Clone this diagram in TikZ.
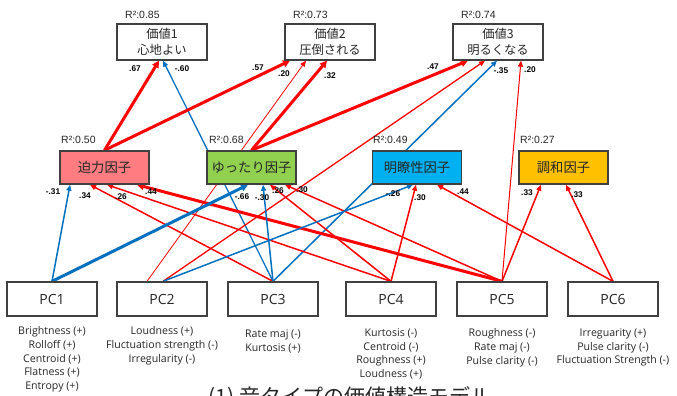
\documentclass[tikz,border=0pt]{standalone}
\usepackage{fontspec}
\usetikzlibrary{arrows.meta,calc}
\newfontfamily\jpfont{Noto Sans CJK JP}
\newfontfamily\latfont{Open Sans}
\newfontfamily\arfont{Liberation Sans}
\definecolor{pathred}{HTML}{FF0000}
\definecolor{pathblue}{HTML}{0070C0}
\definecolor{boxline}{HTML}{404040}
\definecolor{txt}{HTML}{262626}
\definecolor{fpower}{HTML}{FF7C80}
\definecolor{frelax}{HTML}{92D050}
\definecolor{fclear}{HTML}{00B0F0}
\definecolor{fharm}{HTML}{FFC000}
\pgfdeclarelayer{links}
\pgfsetlayers{links,main}
\tikzset{
  valbox/.style={draw=boxline, line width=1.3pt, fill=white, minimum width=90pt,
    minimum height=36pt, inner sep=0pt, align=center, text=txt,
    font=\jpfont\fontsize{12.3}{16}\selectfont},
  facbox/.style={draw=boxline, line width=1.5pt, minimum width=89pt,
    minimum height=33pt, inner sep=0pt, text=txt,
    font=\jpfont\fontsize{13.3}{15}\selectfont},
  pcbox/.style={draw=boxline, line width=1.3pt, fill=white, minimum width=90pt,
    minimum height=34pt, inner sep=0pt, text=txt,
    font=\latfont\fontsize{14}{15}\selectfont},
  desc/.style={anchor=north, align=center, inner sep=0pt, text=txt,
    font=\latfont\fontsize{10.6}{13.7}\selectfont},
  rsq/.style={anchor=west, inner sep=0pt, text=txt,
    font=\arfont\fontsize{10.5}{12}\selectfont},
  coef/.style={inner sep=0pt, text=black,
    font=\arfont\bfseries\fontsize{8.3}{9}\selectfont},
  link/.style={-{Triangle[length=6pt,width=5pt]}, line width=1.5pt},
  poslink/.style={link, draw=pathred},
  neglink/.style={link, draw=pathblue},
  heavy/.style={line width=3pt, -{Triangle[length=7pt,width=7pt]}},
  light/.style={line width=0.8pt},
}
\begin{document}
\begin{tikzpicture}[x=1pt,y=-1pt]
\useasboundingbox (0,0) rectangle (677,396);

% value boxes
\node[valbox] (v1) at (162,42) {価値1\\心地よい};
\node[valbox] (v2) at (330,42) {価値2\\圧倒される};
\node[valbox] (v3) at (498,42) {価値3\\明るくなる};

% factor boxes
\node[facbox, fill=fpower] (f1) at (104.5,167.5) {迫力因子};
\node[facbox, fill=frelax] (f2) at (251.5,167.5) {ゆったり因子};
\node[facbox, fill=fclear] (f3) at (417,167.5) {明瞭性因子};
\node[facbox, fill=fharm]  (f4) at (563.5,167.5) {調和因子};

% principal components
\node[pcbox] (p1) at (52,299) {PC1};
\node[pcbox] (p2) at (162,299) {PC2};
\node[pcbox] (p3) at (273,299) {PC3};
\node[pcbox] (p4) at (391,299) {PC4};
\node[pcbox] (p5) at (502,299) {PC5};
\node[pcbox] (p6) at (613,299) {PC6};

% descriptors under each component
\node[desc] (d1) at (52,326.5) {Brightness (+)\\Rolloff (+)\\Centroid (+)\\Flatness (+)\\Entropy (+)};
\node[desc] (d2) at (162,326.5) {Loudness (+)\\Fluctuation strength (-)\\Irregularity (-)};
\node[desc] (d3) at (273,329.5) {Rate maj (-)\\Kurtosis (+)};
\node[desc] (d4) at (391,328.5) {Kurtosis (-)\\Centroid (-)\\Roughness (+)\\Loudness (+)};
\node[desc] (d5) at (502,328.5) {Roughness (-)\\Rate maj (-)\\Pulse clarity (-)};
\node[desc] (d6) at (613,328.5) {Irreguarity (+)\\Pulse clarity (-)\\Fluctuation Strength (-)};

% explained variance
\node[rsq] (r1) at (125,15) {R²:0.85};
\node[rsq] (r2) at (293,15) {R²:0.73};
\node[rsq] (r3) at (461,15) {R²:0.74};
\node[rsq] (r4) at (61,140) {R²:0.50};
\node[rsq] (r5) at (209,140) {R²:0.68};
\node[rsq] (r6) at (373,140) {R²:0.49};
\node[rsq] (r7) at (520,140) {R²:0.27};

% path coefficients
\node[coef] (c1)  at (135,69) {.67};
\node[coef] (c2)  at (182,69) {-.60};
\node[coef] (c3)  at (258,68) {.57};
\node[coef] (c4)  at (284,74) {.20};
\node[coef] (c5)  at (330,76) {.32};
\node[coef] (c6)  at (433,67) {.47};
\node[coef] (c7)  at (501,71) {-.35};
\node[coef] (c8)  at (530,70) {.20};
\node[coef] (c9)  at (53,192) {-.31};
\node[coef] (c10) at (85,196) {.34};
\node[coef] (c11) at (121,197) {.26};
\node[coef] (c12) at (151,192) {.44};
\node[coef] (c13) at (242,197) {-.66};
\node[coef] (c14) at (262,198) {-.30};
\node[coef] (c15) at (278,191) {.26};
\node[coef] (c16) at (302,190) {.30};
\node[coef] (c17) at (393,194) {-.26};
\node[coef] (c18) at (420,198) {.30};
\node[coef] (c19) at (463,192) {.44};
\node[coef] (c20) at (527,193) {.33};
\node[coef] (c21) at (577,195) {.33};

% caption along the lower edge
\node[anchor=base, inner sep=0pt, text=txt, font=\jpfont\fontsize{21}{24}\selectfont]
  (cap) at (350,404) {(1) 音タイプの価値構造モデル};

\begin{pgfonlayer}{links}
  % factors and components to values
  \draw[poslink,heavy] (f1.north) -- ([xshift=-3pt]v1.south);
  \draw[neglink,line width=1.3pt] (p3.north) -- ([xshift=1pt]v1.south);
  \draw[poslink,heavy] (f1.north) -- ([xshift=-40pt]v2.south);
  \draw[poslink,light] ([xshift=-15pt]p2.north) -- ([xshift=-24pt]v2.south);
  \draw[poslink,heavy] (f2.north) -- ([xshift=-3pt]v2.south);
  \draw[poslink,heavy] (f2.north) -- ([xshift=-30pt]v3.south);
  \draw[poslink,line width=1.3pt] ([xshift=1pt]p2.north) -- ([xshift=-13pt]v3.south);
  \draw[neglink] (p3.north) -- ([xshift=-1pt]v3.south);
  \draw[poslink,line width=1pt] (p5.north) -- ([xshift=23pt]v3.south);
  % components to factors
  \draw[neglink] (p1.north) -- ([xshift=-34.5pt]f1.south);
  \draw[poslink] (p3.north) -- ([xshift=-14.5pt]f1.south);
  \draw[poslink] (p4.north) -- ([xshift=2.5pt]f1.south);
  \draw[poslink,heavy] (p5.north) -- ([xshift=32.5pt]f1.south);
  \draw[neglink,heavy] (p1.north) -- ([xshift=-3.5pt]f2.south);
  \draw[neglink] (p3.north) -- ([xshift=11.5pt]f2.south);
  \draw[poslink] (p4.north) -- ([xshift=18.5pt]f2.south);
  \draw[poslink] (p5.north) -- ([xshift=33.5pt]f2.south);
  \draw[neglink] ([xshift=1pt]p2.north) -- ([xshift=-4pt]f3.south);
  \draw[poslink] (p4.north) -- ([xshift=-1pt]f3.south);
  \draw[poslink] (p6.north) -- ([xshift=20pt]f3.south);
  \draw[poslink] (p5.north) -- ([xshift=-22.5pt]f4.south);
  \draw[poslink] (p6.north) -- ([xshift=2.5pt]f4.south);
\end{pgfonlayer}
\end{tikzpicture}
\end{document}
